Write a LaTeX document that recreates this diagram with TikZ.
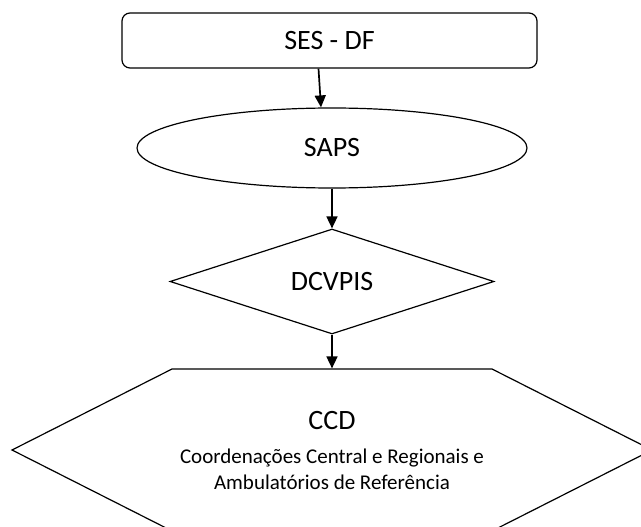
\documentclass[tikz,border=0pt]{standalone}
\usepackage{fontspec}
\setmainfont{Carlito}
\usetikzlibrary{arrows.meta, positioning, shapes.geometric, shapes.symbols}
\tikzstyle{block} = [draw, line width=1.2pt, inner sep=0pt, font=\fontsize{28}{34}\selectfont]
\tikzstyle{flowArrow} = [line width=1.7pt, -{Triangle[length=12pt,width=11pt]}]

\begin{document}
\begin{tikzpicture}[node distance=107.5pt]
		\useasboundingbox (0,0) rectangle (641pt,-527pt);									% Bildrahmen
		\node[block,rectangle,rounded corners=8pt,minimum width=415pt,minimum height=55pt] (ses) at (329.5pt,-40.5pt) {SES - DF};	% Secretaria
		\node[block,ellipse,minimum width=390pt,minimum height=80pt,below of=ses,xshift=2.5pt] (saps) {SAPS};
		\node[block,diamond,aspect=3,minimum width=324pt,minimum height=105pt,below of=saps,node distance=133.5pt] (dcvpis) {DCVPIS};
		\node[block,signal,signal to=east and west,signal from=nowhere,signal pointer angle=53.7,minimum width=640pt,minimum height=162pt,
			below of=dcvpis,node distance=168.5pt,align=center,font=\fontsize{21}{25.5}\selectfont] (ccd)
			{{\fontsize{28}{34}\selectfont CCD}\\[9pt]Coordenações Central e Regionais e\\Ambulatórios de Referência};	% Koordinationen
		
		% Pfeile
		\draw[flowArrow] ([xshift=-11pt]ses.south) to ([xshift=-11pt]saps.north);
		\draw[flowArrow] (saps) to (dcvpis);
		\draw[flowArrow] (dcvpis.south) to (dcvpis.south |- ccd.north);
\end{tikzpicture}
\end{document}
